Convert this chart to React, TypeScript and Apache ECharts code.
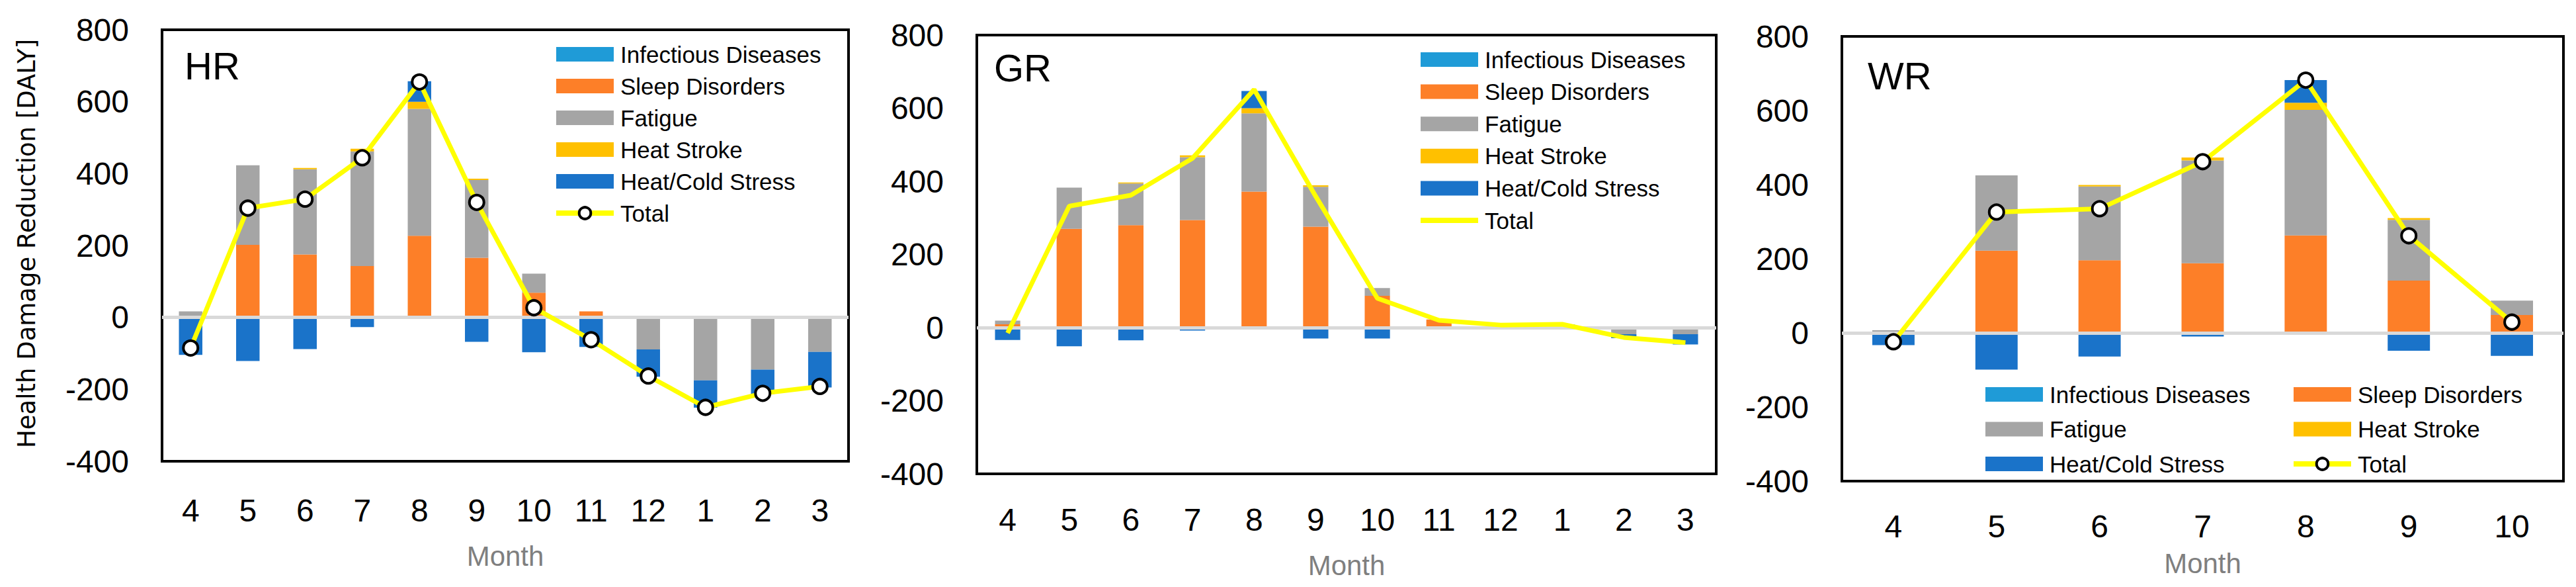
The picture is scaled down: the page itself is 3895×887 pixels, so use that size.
import React, { useEffect, useRef } from "react";
import * as echarts from "echarts";

// ---------- data ----------
const monthsFull = ["4", "5", "6", "7", "8", "9", "10", "11", "12", "1", "2", "3"];
const monthsWR = ["4", "5", "6", "7", "8", "9", "10"];

const hrInfectious = [0, 0, 0, 0, 0, 0, 0, 0, 0, 0, 0, 0];
const hrSleep = [5, 202, 175, 143, 227, 166, 69, 17, 0, 0, 0, 0];
const hrFatigue = [12, 221, 237, 319, 353, 216, 53, 0, -89, -175, -145, -96];
const hrHeatStroke = [0, 0, 4, 7, 20, 4, 0, 0, 0, 0, 0, 0];
const hrHeatCold = [-104, -121, -88, -27, 57, -68, -97, -82, -76, -76, -68, -99];
const hrTotal = [-85, 304, 329, 444, 655, 320, 27, -62, -163, -250, -211, -192];

const grInfectious = [0, 0, 0, 0, 0, 0, 0, 0, 0, 0, 0, 0];
const grSleep = [9, 270, 280, 294, 372, 276, 87, 22, 4, 5, 0, 0];
const grFatigue = [10, 113, 114, 172, 214, 109, 21, 0, 3, 3, -18, -18];
const grHeatStroke = [0, 0, 3, 5, 14, 4, 0, 0, 0, 0, 0, 0];
const grHeatCold = [-34, -51, -35, -8, 47, -30, -30, 0, 0, 1, -11, -28];
const grTotal = [-15, 332, 362, 463, 651, 359, 80, 20, 7, 9, -27, -41];

const wrInfectious = [0, 0, 0, 0, 0, 0, 0];
const wrSleep = [0, 222, 196, 188, 263, 141, 48];
const wrFatigue = [7, 203, 199, 277, 339, 164, 39];
const wrHeatStroke = [0, 0, 4, 8, 19, 5, 0];
const wrHeatCold = [-33, -99, -64, -10, 61, -48, -62];
const wrTotal = [-24, 326, 335, 462, 682, 262, 29];

const yTicks = { min: -400, max: 800, interval: 200 };
const yTitle = "Health Damage Reduction [DALY]";
const xTitle = "Month";

// ---------- styles ----------
const FONT = "'Liberation Sans', Arial, sans-serif";
const COLORS = {
  infectious: "#1F9BD7",
  sleep: "#FD7F28",
  fatigue: "#A5A5A5",
  heatStroke: "#FFC000",
  heatCold: "#1A73C9",
  total: "#FFFF00",
};

const NAMES = {
  infectious: "Infectious Diseases",
  sleep: "Sleep Disorders",
  fatigue: "Fatigue",
  heatStroke: "Heat Stroke",
  heatCold: "Heat/Cold Stress",
  total: "Total",
};

type PanelData = {
  key: string;
  infectious: number[];
  sleep: number[];
  fatigue: number[];
  heatStroke: number[];
  heatCold: number[];
  total: number[];
  markers: boolean;
};

const panels: PanelData[] = [
  { key: "HR", infectious: hrInfectious, sleep: hrSleep, fatigue: hrFatigue, heatStroke: hrHeatStroke, heatCold: hrHeatCold, total: hrTotal, markers: true },
  { key: "GR", infectious: grInfectious, sleep: grSleep, fatigue: grFatigue, heatStroke: grHeatStroke, heatCold: grHeatCold, total: grTotal, markers: false },
  { key: "WR", infectious: wrInfectious, sleep: wrSleep, fatigue: wrFatigue, heatStroke: wrHeatStroke, heatCold: wrHeatCold, total: wrTotal, markers: true },
];

const nm = (k: keyof typeof NAMES, p: string) => `${NAMES[k]}|${p}`;

function buildOption() {
  const grids = [
    { left: 245, top: 45, width: 1038, height: 652 },
    { left: 1477, top: 53, width: 1118, height: 663 },
    { left: 2785, top: 55, width: 1091, height: 672 },
  ].map((g) => ({
    ...g,
    show: true,
    borderColor: "#000",
    borderWidth: 4,
    backgroundColor: "transparent",
    containLabel: false,
  }));

  const xLabelMargins = [50, 45, 44];
  const xNameGaps = [122, 117, 103];
  const cats = [monthsFull, monthsFull, monthsWR];

  const xAxis = cats.map((c, i) => ({
    type: "category",
    gridIndex: i,
    data: c,
    axisLine: { show: false },
    axisTick: { show: false },
    splitLine: { show: false },
    axisLabel: { fontSize: 48, color: "#000", fontFamily: FONT, margin: xLabelMargins[i], lineHeight: 48 },
    name: xTitle,
    nameLocation: "middle",
    nameGap: xNameGaps[i],
    nameTextStyle: { color: "#7F7F7F", fontSize: 42, fontFamily: FONT, lineHeight: 42 },
  }));

  const yAxis = cats.map((_, i) => ({
    type: "value",
    gridIndex: i,
    min: yTicks.min,
    max: yTicks.max,
    interval: yTicks.interval,
    axisLine: { show: false },
    axisTick: { show: false },
    splitLine: { show: false },
    axisLabel: { fontSize: 48, color: "#000", fontFamily: FONT, margin: 50 },
  }));

  const series: any[] = [];
  panels.forEach((p, i) => {
    const stack = `stack${p.key}`;
    const bar = (k: "sleep" | "fatigue" | "heatStroke" | "heatCold" | "infectious", extra: any = {}) => ({
      type: "bar",
      name: nm(k, p.key),
      xAxisIndex: i,
      yAxisIndex: i,
      stack,
      barWidth: "41%",
      data: p[k],
      itemStyle: { color: COLORS[k] },
      z: 2,
      ...extra,
    });
    series.push(
      bar("sleep", {
        markLine: {
          silent: true,
          z: 5,
          symbol: ["none", "none"],
          label: { show: false },
          lineStyle: { color: "#D9D9D9", width: 5, type: "solid" },
          data: [{ yAxis: 0 }],
        },
      })
    );
    series.push(bar("fatigue"));
    series.push(bar("heatStroke"));
    series.push(bar("heatCold"));
    series.push(bar("infectious"));
    series.push({
      type: "line",
      name: nm("total", p.key),
      xAxisIndex: i,
      yAxisIndex: i,
      data: p.total,
      symbol: p.markers ? "circle" : "none",
      symbolSize: 22,
      showSymbol: p.markers,
      itemStyle: p.markers
        ? { color: "#FFFFFF", borderColor: "#000000", borderWidth: 4 }
        : { color: COLORS.total },
      lineStyle: { color: COLORS.total, width: 7 },
      z: 6,
    });
  });

  const legendBase = {
    orient: "vertical",
    padding: 0,
    itemWidth: 87,
    itemHeight: 22,
    selectedMode: false,
    formatter: (n: string) => n.split("|")[0],
    textStyle: { fontSize: 35, color: "#000", fontFamily: FONT, lineHeight: 36, padding: [0, 0, 0, 5] },
  };
  const barItem = (k: keyof typeof NAMES, p: string) => ({ name: nm(k, p), icon: "rect" });
  const totalItem = (p: string, markers: boolean) => ({
    name: nm("total", p),
    lineStyle: { color: COLORS.total, width: 8 },
    itemStyle: markers
      ? { color: "#FFFFFF", borderColor: "#000000", borderWidth: 4 }
      : { color: "transparent", borderWidth: 0, opacity: 0 },
  });

  const legend = [
    {
      ...legendBase,
      left: 837,
      top: 64,
      itemGap: 12,
      data: [
        barItem("infectious", "HR"),
        barItem("sleep", "HR"),
        barItem("fatigue", "HR"),
        barItem("heatStroke", "HR"),
        barItem("heatCold", "HR"),
        totalItem("HR", true),
      ],
    },
    {
      ...legendBase,
      left: 2144,
      top: 72,
      itemGap: 12.6,
      data: [
        barItem("infectious", "GR"),
        barItem("sleep", "GR"),
        barItem("fatigue", "GR"),
        barItem("heatStroke", "GR"),
        barItem("heatCold", "GR"),
        totalItem("GR", false),
      ],
    },
    {
      ...legendBase,
      left: 3002,
      top: 578,
      itemGap: 16.5,
      data: [barItem("infectious", "WR"), barItem("fatigue", "WR"), barItem("heatCold", "WR")],
    },
    {
      ...legendBase,
      left: 3464,
      top: 578,
      itemGap: 16.5,
      data: [barItem("sleep", "WR"), barItem("heatStroke", "WR"), totalItem("WR", true)],
    },
  ];

  const label = (text: string, x: number, y: number) => ({
    type: "text",
    x,
    y,
    silent: true,
    style: { text, fill: "#000", fontSize: 58, fontFamily: FONT, align: "left", verticalAlign: "middle" },
  });

  const graphic = [
    label("HR", 279, 99),
    label("GR", 1503, 102),
    label("WR", 2824, 114),
    {
      type: "text",
      x: 40,
      y: 368,
      rotation: Math.PI / 2,
      silent: true,
      style: {
        text: yTitle,
        fill: "#000",
        fontSize: 37,
        fontFamily: "'DejaVu Sans', Verdana, sans-serif",
        align: "center",
        verticalAlign: "middle",
      },
    },
  ];

  return {
    animation: false,
    backgroundColor: "#FFFFFF",
    textStyle: { fontFamily: FONT },
    grid: grids,
    xAxis,
    yAxis,
    legend,
    graphic,
    series,
  };
}

export default function App() {
  const ref = useRef<HTMLDivElement>(null);
  useEffect(() => {
    if (!ref.current) return;
    const chart = echarts.init(ref.current, undefined, { renderer: "svg" });
    chart.setOption(buildOption() as any);
    return () => chart.dispose();
  }, []);
  return (
    <div
      ref={ref}
      style={{ position: "absolute", left: 0, top: 0, width: 3895, height: 887, background: "#fff" }}
    />
  );
}
